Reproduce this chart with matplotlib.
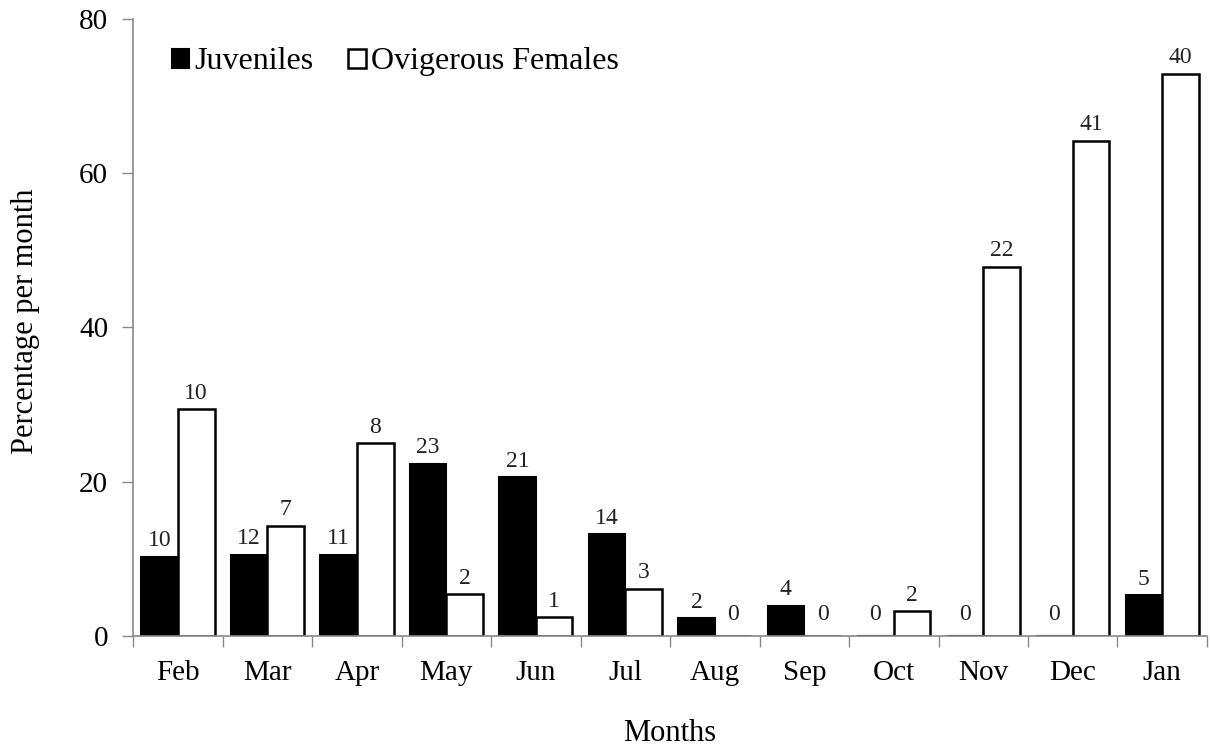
import matplotlib
matplotlib.use("Agg")
import matplotlib.pyplot as plt
import numpy as np

months = ["Feb", "Mar", "Apr", "May", "Jun", "Jul", "Aug", "Sep", "Oct", "Nov", "Dec", "Jan"]
juveniles = [10.3, 10.5, 10.5, 22.3, 20.6, 13.2, 2.3, 3.9, 0, 0, 0, 5.3]
ovigerous = [29.4, 14.3, 25.0, 5.4, 2.4, 6.1, 0, 0, 3.2, 47.9, 64.2, 72.9]
juv_counts = [10, 12, 11, 23, 21, 14, 2, 4, 0, 0, 0, 5]
ovi_counts = [10, 7, 8, 2, 1, 3, 0, 0, 2, 22, 41, 40]
yticks = [0, 20, 40, 60, 80]

plt.rcParams['font.family'] = ['Liberation Serif', 'DejaVu Serif']

fig = plt.figure(figsize=(12.10, 7.46), dpi=100)
ax = fig.add_axes([0.11, 0.1475, 0.8875, 0.827])

x = np.arange(len(months))
w = 0.41
b1 = ax.bar(x - w / 2, juveniles, w, color='black', edgecolor='black', linewidth=1.5, label='Juveniles')
b2 = ax.bar(x + w / 2, ovigerous, w, color='white', edgecolor='black', linewidth=1.8, label='Ovigerous Females')

for rect, c in zip(b1, juv_counts):
    ax.annotate(str(c), (rect.get_x() + rect.get_width() / 2, rect.get_height()),
                xytext=(0, 4 if c else 8), textcoords='offset points', ha='center', va='bottom',
                fontsize=17, color='#222222')
for rect, c in zip(b2, ovi_counts):
    ax.annotate(str(c), (rect.get_x() + rect.get_width() / 2, rect.get_height()),
                xytext=(0, 4 if c else 8), textcoords='offset points', ha='center', va='bottom',
                fontsize=17, color='#222222')

ax.set_xlim(-0.5, len(months) - 0.5)
ax.set_ylim(0, 80)
ax.set_yticks(yticks)
ax.set_yticklabels([str(v) for v in yticks], fontsize=21)
ax.set_xticks(np.arange(len(months) + 1) - 0.5)
ax.set_xticklabels([])
ax.set_xticks(x, minor=True)
ax.set_xticklabels(months, minor=True, fontsize=21)
ax.tick_params(axis='x', which='minor', length=0, pad=17)
ax.tick_params(axis='x', which='major', length=8, width=1, color='#888888', direction='out')
ax.tick_params(axis='y', length=8, width=1, color='#888888', direction='out', pad=10)

for s in ['top', 'right']:
    ax.spines[s].set_visible(False)
for s in ['left', 'bottom']:
    ax.spines[s].set_color('#888888')
    ax.spines[s].set_linewidth(1.2)

ax.set_xlabel('Months', fontsize=22, labelpad=24)
ax.set_ylabel('Percentage per month', fontsize=22)
ax.yaxis.set_label_coords(-0.087, 0.51)

leg = ax.legend(loc='upper left', bbox_to_anchor=(0.018, 0.985), ncol=2, frameon=False,
                fontsize=23, handlelength=0.55, handleheight=0.55, handletextpad=0.15,
                columnspacing=1.1, borderaxespad=0.2)

fig.savefig('out.png', dpi=100)
